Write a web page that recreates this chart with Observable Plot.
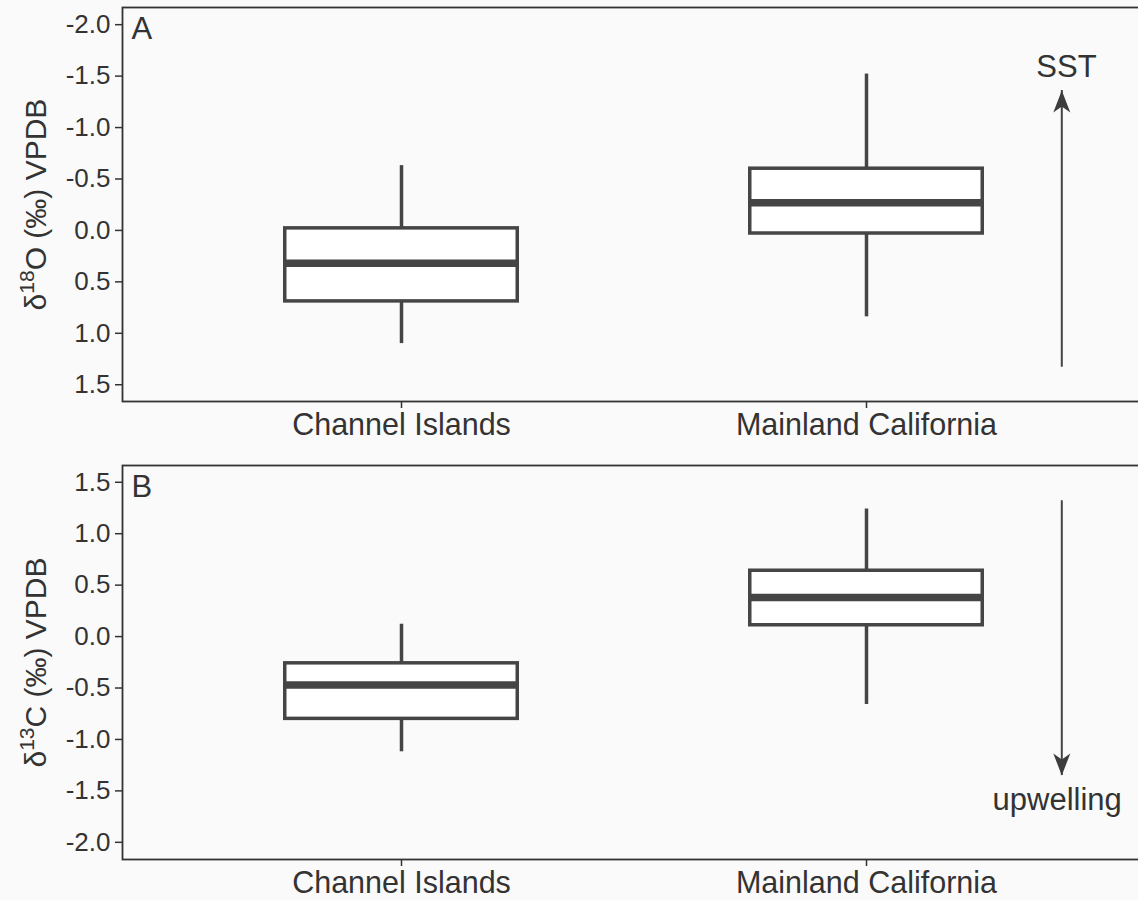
<!DOCTYPE html>
<html>
<head>
<meta charset="utf-8">
<script src="https://cdn.jsdelivr.net/npm/d3@7"></script>
<script src="https://cdn.jsdelivr.net/npm/@observablehq/plot@0.6"></script>
<style>
  html, body { margin: 0; padding: 0; background: #fafafa; }
  svg { display: block; }
</style>
</head>
<body>
<script>
// ---- data ----
const sites = ["Channel Islands", "Mainland California"];
const siteIndex = [1, 2];

// delta 18O (panel A)
const o18Min    = [-0.63, -1.52];
const o18Q1     = [-0.02, -0.60];
const o18Median = [ 0.32, -0.27];
const o18Q3     = [ 0.69,  0.03];
const o18Max    = [ 1.10,  0.84];

// delta 13C (panel B)
const c13Min    = [-1.12, -0.66];
const c13Q1     = [-0.80,  0.11];
const c13Median = [-0.47,  0.38];
const c13Q3     = [-0.26,  0.64];
const c13Max    = [ 0.12,  1.24];

const yTicks = [-2.0, -1.5, -1.0, -0.5, 0.0, 0.5, 1.0, 1.5];
const yDomain = [-2.167, 1.663];
const xDomain = [0.4, 2.6];

const panelLetters = ["A", "B"];
const yTitles = [["δ", "18", "O (‰) VPDB"], ["δ", "13", "C (‰) VPDB"]];

const arrowX = 2.42;
const sstArrow = [1.33, -1.36];       // from, to (panel A units)
const upwellingArrow = [1.32, -1.35]; // from, to (panel B units)
const sstLabel = {text: "SST", x: 2.43, y: -1.59};
const upwellingLabel = {text: "upwelling", x: 2.41, y: -1.59};

// ---- helpers ----
const ink = "#454545";
const fmt = d => d.toFixed(1);

function boxes(min, q1, med, q3, max) {
  return siteIndex.map((i, k) => ({i, min: min[k], q1: q1[k], med: med[k], q3: q3[k], max: max[k]}));
}

const headUp = {draw(ctx) { ctx.moveTo(0, 0); ctx.lineTo(8.5, 22); ctx.lineTo(0, 16); ctx.lineTo(-8.5, 22); ctx.closePath(); }};
const headDown = {draw(ctx) { ctx.moveTo(0, 0); ctx.lineTo(8.5, -22); ctx.lineTo(0, -16); ctx.lineTo(-8.5, -22); ctx.closePath(); }};

function panel({data, reverse, letter, title, arrow, head, label, marginTop, marginBottom}) {
  const fullTitle = title.join("");
  const svg = Plot.plot({
    width: 1138,
    height: 450,
    marginLeft: 122,
    marginRight: -7,
    marginTop,
    marginBottom,
    style: {background: "#fafafa", color: "#333", fontFamily: "'Liberation Sans', Arial, sans-serif", fontSize: "24px"},
    x: {domain: xDomain},
    y: {domain: yDomain, reverse},
    marks: [
      Plot.axisY({ticks: yTicks, tickFormat: fmt, tickSize: 7, tickPadding: 5, fontSize: 26, label: null, strokeWidth: 1.5}),
      Plot.axisX({ticks: siteIndex, tickFormat: i => sites[i - 1], tickSize: 7, tickPadding: 5, fontSize: 30.5, label: null, strokeWidth: 1.5}),
      // whiskers
      Plot.ruleX(data, {x: "i", y1: "q3", y2: "max", stroke: ink, strokeWidth: 3.5}),
      Plot.ruleX(data, {x: "i", y1: "q1", y2: "min", stroke: ink, strokeWidth: 3.5}),
      // boxes
      Plot.rect(data, {x1: d => d.i - 0.25, x2: d => d.i + 0.25, y1: "q1", y2: "q3", fill: "white", stroke: ink, strokeWidth: 3.5}),
      // medians
      Plot.ruleY(data, {y: "med", x1: d => d.i - 0.25, x2: d => d.i + 0.25, stroke: ink, strokeWidth: 7.5}),
      // annotation arrow
      Plot.ruleX([arrowX], {y1: arrow[0], y2: arrow[1], stroke: "#444", strokeWidth: 2}),
      Plot.dot([arrowX], {x: d => d, y: () => arrow[1], symbol: head, fill: "#3d3d3d", stroke: null}),
      Plot.text([label], {x: "x", y: "y", text: "text", fontSize: 31, fill: "#333"}),
      // panel letter
      Plot.text([letter], {frameAnchor: "top-left", text: d => d, dx: 9, dy: 9, fontSize: 31, fill: "#333"}),
      // y title
      Plot.text([fullTitle], {frameAnchor: "left", textAnchor: "middle", text: d => d, rotate: -90, dx: -86, fontSize: 30, fill: "#333"}),
      Plot.frame({stroke: "#333", strokeWidth: 1.8})
    ]
  });
  // rich-text y title with superscript
  d3.select(svg).selectAll("text").each(function() {
    if (this.textContent !== fullTitle) return;
    const t = d3.select(this);
    t.text(null);
    t.append("tspan").text(title[0]);
    t.append("tspan").attr("dy", -12).attr("font-size", 21).text(title[1]);
    t.append("tspan").attr("dy", 12).text(title[2]);
  });
  return svg;
}

document.body.append(panel({
  data: boxes(o18Min, o18Q1, o18Median, o18Q3, o18Max),
  reverse: true, letter: panelLetters[0], title: yTitles[0],
  arrow: sstArrow, head: headUp, label: sstLabel,
  marginTop: 7, marginBottom: 49
}));
document.body.append(panel({
  data: boxes(c13Min, c13Q1, c13Median, c13Q3, c13Max),
  reverse: false, letter: panelLetters[1], title: yTitles[1],
  arrow: upwellingArrow, head: headDown, label: upwellingLabel,
  marginTop: 15, marginBottom: 41
}));
</script>
</body>
</html>
